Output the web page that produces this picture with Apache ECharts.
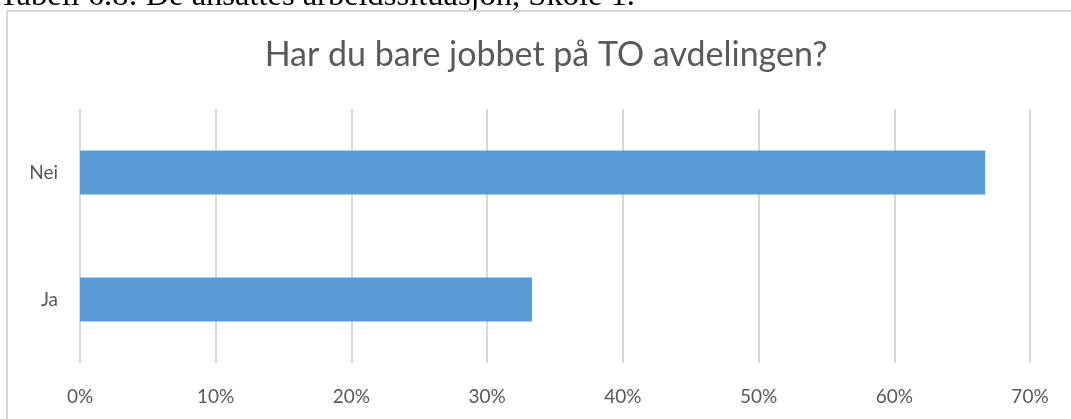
<!DOCTYPE html>
<html>
<head>
<meta charset="utf-8">
<title>Har du bare jobbet på TO avdelingen?</title>
<script src="https://cdn.jsdelivr.net/npm/echarts@6/dist/echarts.min.js"></script>
<style>
  html, body { margin: 0; padding: 0; background: #fff; }
  #chart { width: 1071px; height: 419px; }
</style>
</head>
<body>
<div id="chart"></div>
<script>
// data
const categories = ["Ja", "Nei"];
const shares = [0.333, 0.667];
const tickMax = 0.7;
const tickStep = 0.1;

const grey = "#595959";
const gridGrey = "#d9d9d9";

let chart = echarts.init(document.getElementById("chart"));

let option = {
  animation: false,
  textStyle: { fontFamily: "Lato" },
  graphic: [
    // caption of the document, cut off at the top
    {
      type: "text",
      x: -1,
      y: -20,
      style: {
        text: "Tabell 6.8: De ansattes arbeidssituasjon, Skole 1.",
        font: "32.5px 'Liberation Serif'",
        fill: "#000"
      }
    },
    // chart frame
    {
      type: "rect",
      shape: { x: 7, y: 11, width: 1200, height: 600 },
      style: { fill: "none", stroke: gridGrey, lineWidth: 2 }
    },
    {
      type: "text",
      x: 546,
      y: 55,
      style: {
        text: "Har du bare jobbet på TO avdelingen?",
        font: "34px Lato",
        fill: grey,
        align: "center",
        verticalAlign: "middle"
      }
    }
  ],
  grid: {
    left: 80,
    right: 41,
    top: 109,
    bottom: 56
  },
  xAxis: {
    type: "value",
    min: 0,
    max: tickMax,
    interval: tickStep,
    axisLine: { show: false },
    axisTick: { show: false },
    splitLine: { lineStyle: { color: gridGrey, width: 2 } },
    axisLabel: {
      color: grey,
      fontSize: 19,
      margin: 24,
      formatter: v => Math.round(v * 100) + "%"
    }
  },
  yAxis: {
    type: "category",
    data: categories,
    axisLine: { show: false },
    axisTick: { show: false },
    splitLine: { show: false },
    axisLabel: { color: grey, fontSize: 19, margin: 22 }
  },
  series: [
    {
      type: "bar",
      data: shares,
      barWidth: 44,
      itemStyle: { color: "#5b9bd5" }
    }
  ]
};

chart.setOption(option);
</script>
</body>
</html>
